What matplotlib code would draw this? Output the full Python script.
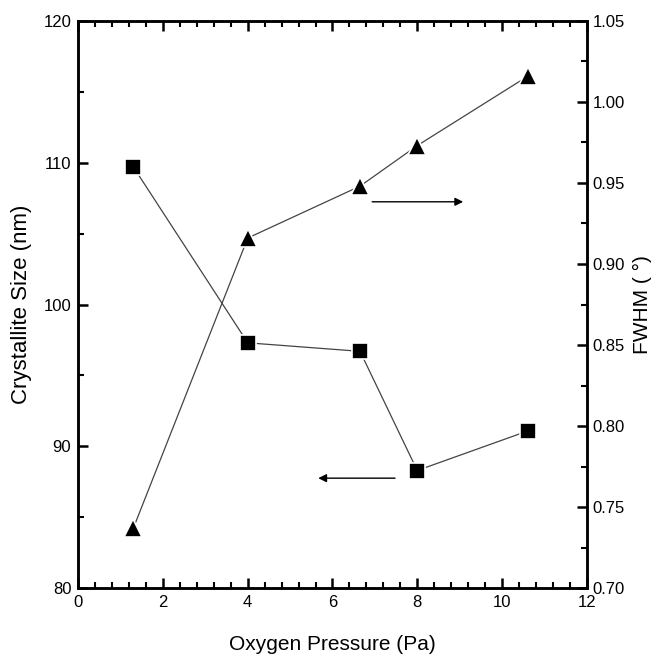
import matplotlib
matplotlib.use('Agg')
import matplotlib.pyplot as plt
from matplotlib.ticker import MultipleLocator

## values
pressure = [1.3, 4.0, 6.65, 8.0, 10.62]
crystallite_size = [109.7, 97.3, 96.7, 88.3, 91.1]
fwhm = [0.737, 0.916, 0.948, 0.973, 1.016]

plt.rcParams['font.family'] = ['Liberation Sans', 'DejaVu Sans']

fig = plt.figure(figsize=(6.63, 6.70), dpi=100)
ax = fig.add_axes([0.118, 0.122, 0.767, 0.847])
ax2 = ax.twinx()

ax.plot(pressure, crystallite_size, color='#444444', lw=0.9, marker='s',
        markersize=11, markerfacecolor='black', markeredgecolor='white',
        markeredgewidth=1.2)
ax2.plot(pressure, fwhm, color='#444444', lw=0.9, marker='^',
         markersize=13, markerfacecolor='black', markeredgecolor='white',
         markeredgewidth=1.2)

ax.set_xlim(0, 12)
ax.set_ylim(80, 120)
ax2.set_ylim(0.70, 1.05)

ax.xaxis.set_major_locator(MultipleLocator(2))
ax.xaxis.set_minor_locator(MultipleLocator(0.4))
ax.yaxis.set_major_locator(MultipleLocator(10))
ax.yaxis.set_minor_locator(MultipleLocator(5))
ax2.yaxis.set_major_locator(MultipleLocator(0.05))
ax2.yaxis.set_minor_locator(MultipleLocator(0.025))
ax2.yaxis.set_major_formatter(plt.FormatStrFormatter('%.2f'))

ax.tick_params(axis='x', which='both', direction='in', top=True, bottom=True)
ax.tick_params(axis='y', which='both', direction='in', left=True, right=False)
ax.tick_params(which='major', length=7, width=1.8, labelsize=12, pad=5)
ax.tick_params(which='minor', length=4, width=1.5)
ax2.tick_params(axis='y', which='both', direction='in')
ax2.tick_params(which='major', length=7, width=1.8, labelsize=12, pad=4)
ax2.tick_params(which='minor', length=4, width=1.5)

for a in (ax, ax2):
    for s in a.spines.values():
        s.set_linewidth(1.8)

ax.set_xlabel('Oxygen Pressure (Pa)', fontsize=15, labelpad=18)
ax.set_ylabel('Crystallite Size (nm)', fontsize=16, labelpad=8)
ax2.set_ylabel('FWHM ( °)', fontsize=15, labelpad=6)

# arrows pointing to the relevant axis
ax.annotate('', xy=(0.757, 0.681), xytext=(0.578, 0.681), xycoords='axes fraction',
            arrowprops=dict(arrowstyle='-|>', color='black', lw=1.0,
                            mutation_scale=12, shrinkA=0, shrinkB=0))
ax.annotate('', xy=(0.472, 0.194), xytext=(0.623, 0.194), xycoords='axes fraction',
            arrowprops=dict(arrowstyle='-|>', color='black', lw=1.0,
                            mutation_scale=12, shrinkA=0, shrinkB=0))

fig.savefig('out.png', dpi=100)
